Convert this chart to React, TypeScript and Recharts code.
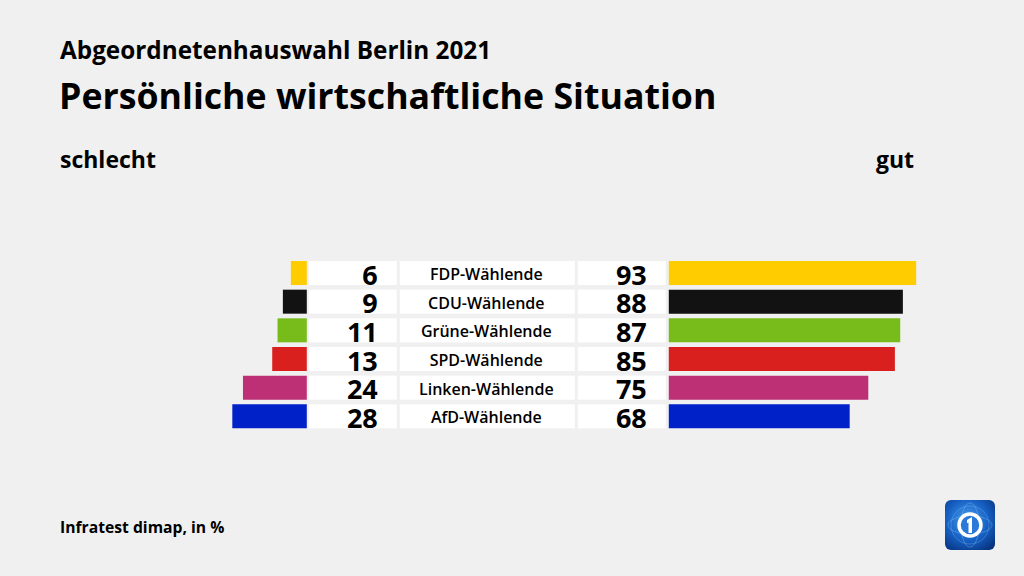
import { BarChart, Bar, XAxis, YAxis, Cell } from "recharts";

const parties = [
  "FDP-Wählende",
  "CDU-Wählende",
  "Grüne-Wählende",
  "SPD-Wählende",
  "Linken-Wählende",
  "AfD-Wählende",
];
const schlecht = [6, 9, 11, 13, 24, 28];
const gut = [93, 88, 87, 85, 75, 68];
const partyColors = ["#ffcc00", "#121212", "#78bc1b", "#d9201f", "#be3075", "#0021c7"];

const PX = 2.66; // pixel je Prozentpunkt
const LEFT_MAX = 30;
const CHART_W = 708;
const u = (px: number) => px / PX;

const rows = parties.map((party, i) => ({
  party,
  bad: schlecht[i],
  good: gut[i],
  pad: LEFT_MAX - schlecht[i],
  gap1: u(2),
  box1: u(88),
  gap2: u(3),
  mid: u(175),
  gap3: u(3),
  box2: u(88),
  gap4: u(3),
}));

const FONT = "'Open Sans', sans-serif";

function NumberBox(props: any) {
  const { x, y, width, height, payload, field } = props;
  return (
    <g>
      <rect x={x} y={y} width={width} height={height} fill="#ffffff" />
      <text
        x={x + width - 19}
        y={y + height / 2 + 1}
        textAnchor="end"
        dominantBaseline="central"
        fontFamily={FONT}
        fontWeight={700}
        fontSize={27}
        fill="#000"
      >
        {payload[field]}
      </text>
    </g>
  );
}

function LabelBox(props: any) {
  const { x, y, width, height, payload } = props;
  return (
    <g>
      <rect x={x} y={y} width={width} height={height} fill="#ffffff" />
      <text
        x={x + width / 2 - 1}
        y={y + height / 2 + 1}
        textAnchor="middle"
        dominantBaseline="central"
        fontFamily={FONT}
        fontWeight={600}
        fontSize={16}
        fill="#000"
      >
        {payload.party}
      </text>
    </g>
  );
}

function Logo() {
  return (
    <g transform="translate(945,500)">
      <defs>
        <radialGradient id="logoGrad" cx="45%" cy="40%" r="75%">
          <stop offset="0" stopColor="#4aa0ee" />
          <stop offset="0.55" stopColor="#1660c4" />
          <stop offset="1" stopColor="#062f78" />
        </radialGradient>
      </defs>
      <rect width={50} height={50} rx={6} fill="url(#logoGrad)" />
      <ellipse cx={25} cy={25} rx={22} ry={9} fill="none" stroke="#7fbdf5" strokeOpacity={0.4} strokeWidth={1} />
      <ellipse cx={25} cy={25} rx={9} ry={22} fill="none" stroke="#7fbdf5" strokeOpacity={0.4} strokeWidth={1} />
      <circle cx={25} cy={25} r={19} fill="none" stroke="#7fbdf5" strokeOpacity={0.35} strokeWidth={1} />
      <circle cx={25} cy={25} r={11} fill="#2a78d8" stroke="#ffffff" strokeWidth={3.5} />
      <path d="M22 20 L27 17 L27 33 L23.5 33 L23.5 22.5 L22 23.3 Z" fill="#ffffff" />
    </g>
  );
}

export default function App() {
  return (
    <div
      style={{
        position: "relative",
        width: 1024,
        height: 576,
        background: "#f0f0f0",
        overflow: "hidden",
      }}
    >
      <style>{`body{margin:0}`}</style>
      <svg
        width={1024}
        height={576}
        style={{ position: "absolute", left: 0, top: 0 }}
      >
        <text x={60} y={59} fontFamily={FONT} fontWeight={700} fontSize={24.3} fill="#000">
          Abgeordnetenhauswahl Berlin 2021
        </text>
        <text x={59} y={109} fontFamily={FONT} fontWeight={700} fontSize={35.7} fill="#000">
          Persönliche wirtschaftliche Situation
        </text>
        <text x={60} y={168} fontFamily={FONT} fontWeight={700} fontSize={23} fill="#000">
          schlecht
        </text>
        <text x={914} y={168} textAnchor="end" fontFamily={FONT} fontWeight={700} fontSize={23} fill="#000">
          gut
        </text>
        <text x={60} y={533} fontFamily={FONT} fontWeight={700} fontSize={15.7} fill="#000">
          Infratest dimap, in %
        </text>
        <Logo />
      </svg>
      <div style={{ position: "absolute", left: 227, top: 259 }}>
        <BarChart
          width={CHART_W}
          height={172}
          data={rows}
          layout="vertical"
          margin={{ top: 0, right: 0, bottom: 0, left: 0 }}
          barSize={24}
        >
          <XAxis type="number" hide domain={[0, CHART_W / PX]} />
          <YAxis type="category" dataKey="party" hide />
          <Bar dataKey="pad" stackId="s" fill="transparent" isAnimationActive={false} />
          <Bar dataKey="bad" stackId="s" isAnimationActive={false}>
            {rows.map((_, i) => (
              <Cell key={i} fill={partyColors[i]} />
            ))}
          </Bar>
          <Bar dataKey="gap1" stackId="s" fill="transparent" isAnimationActive={false} />
          <Bar
            dataKey="box1"
            stackId="s"
            isAnimationActive={false}
            shape={(p: any) => <NumberBox {...p} field="bad" />}
          />
          <Bar dataKey="gap2" stackId="s" fill="transparent" isAnimationActive={false} />
          <Bar dataKey="mid" stackId="s" isAnimationActive={false} shape={(p: any) => <LabelBox {...p} />} />
          <Bar dataKey="gap3" stackId="s" fill="transparent" isAnimationActive={false} />
          <Bar
            dataKey="box2"
            stackId="s"
            isAnimationActive={false}
            shape={(p: any) => <NumberBox {...p} field="good" />}
          />
          <Bar dataKey="gap4" stackId="s" fill="transparent" isAnimationActive={false} />
          <Bar dataKey="good" stackId="s" isAnimationActive={false}>
            {rows.map((_, i) => (
              <Cell key={i} fill={partyColors[i]} />
            ))}
          </Bar>
        </BarChart>
      </div>
    </div>
  );
}
